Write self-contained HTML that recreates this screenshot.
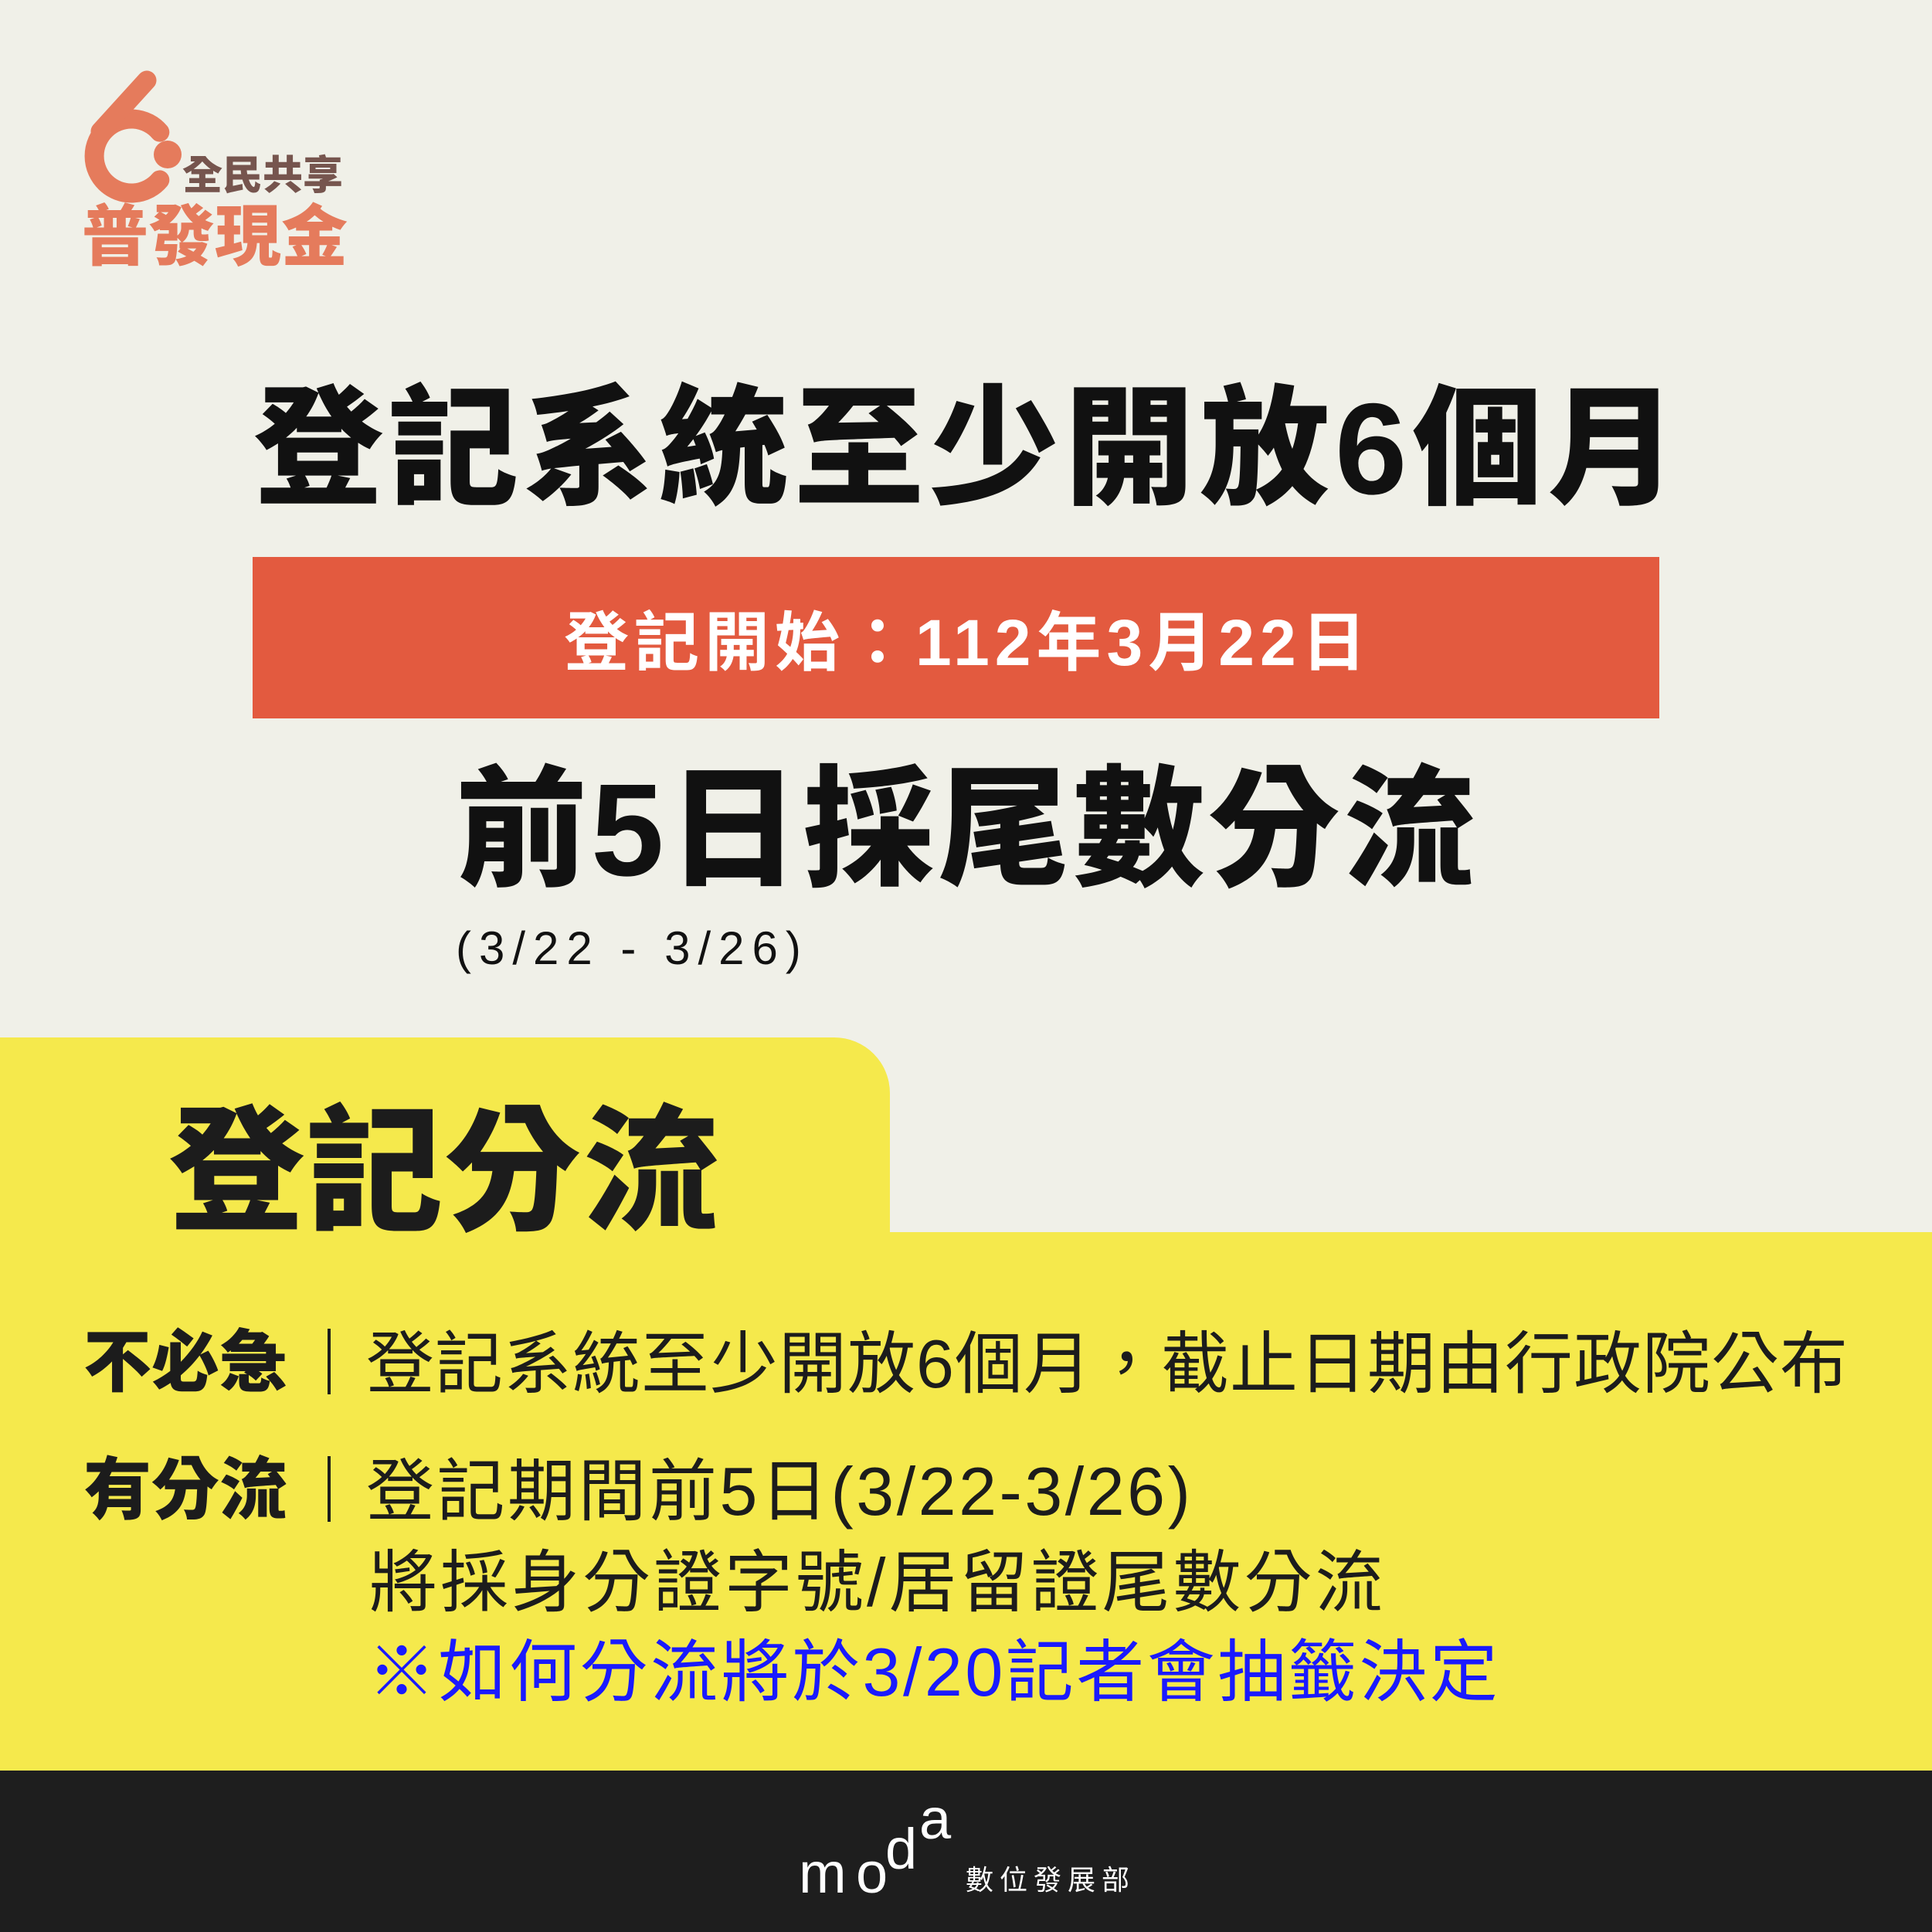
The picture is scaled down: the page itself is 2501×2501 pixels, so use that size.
<!DOCTYPE html>
<html><head><meta charset="utf-8"><style>
*{margin:0;padding:0;box-sizing:border-box}
body{width:2501px;height:2501px;background:#f0f0e8;position:relative;overflow:hidden;font-family:"Liberation Sans","Noto Sans CJK TC",sans-serif}
.t{position:absolute;white-space:nowrap;line-height:1}
</style></head><body>
<svg style="position:absolute;left:0;top:0" width="500" height="400">
<path d="M206.8 171.1 A48 48 0 1 0 206.8 232.9" fill="none" stroke="#e57b5c" stroke-width="25" stroke-linecap="round"/>
<path d="M130 170 L190 104" stroke="#e57b5c" stroke-width="25" stroke-linecap="round"/>
<circle cx="217" cy="200" r="18" fill="#e57b5c"/>
</svg>
<div class="t" style="left:236px;top:202px;font-size:52px;font-weight:900;color:#76554e">全民共享</div>
<div class="t" style="left:106px;top:264px;font-size:86px;font-weight:900;color:#e57b5c">普發現金</div>
<div class="t" style="left:328px;top:497px;font-size:168px;font-weight:900;color:#111;letter-spacing:7px">登記系統至少開放6個月</div>
<div style="position:absolute;left:327px;top:721px;width:1821px;height:209px;background:#e35a3f"></div>
<div class="t" style="left:730px;top:790px;font-size:84px;font-weight:700;color:#fff;letter-spacing:7px">登記開始：112年3月22日</div>
<div class="t" style="left:590px;top:990px;font-size:170px;font-weight:900;color:#111;letter-spacing:5px">前5日採尾數分流</div>
<div class="t" style="left:590px;top:1198px;font-size:60px;font-weight:500;color:#111;letter-spacing:10px">(3/22 - 3/26)</div>
<div style="position:absolute;left:0;top:1343px;width:1152px;height:300px;background:#f5e94c;border-top-right-radius:72px"></div>
<div style="position:absolute;left:0;top:1595px;width:2501px;height:697px;background:#f5e94c"></div>
<div class="t" style="left:218px;top:1430px;font-size:176px;font-weight:900;color:#1c1c1c;letter-spacing:3px">登記分流</div>
<div class="t" style="left:108px;top:1720px;font-size:88px;font-weight:900;color:#1c1c1c">不必急</div>
<div style="position:absolute;left:424px;top:1720px;width:4px;height:85px;background:#1c1c1c"></div>
<div class="t" style="left:474px;top:1722px;font-size:88px;font-weight:400;color:#1c1c1c;letter-spacing:1px">登記系統至少開放6個月，截止日期由行政院公布</div>
<div class="t" style="left:108px;top:1885px;font-size:88px;font-weight:900;color:#1c1c1c">有分流</div>
<div style="position:absolute;left:424px;top:1885px;width:4px;height:85px;background:#1c1c1c"></div>
<div class="t" style="left:474px;top:1887px;font-size:88px;font-weight:400;color:#1c1c1c;letter-spacing:3.5px">登記期間前5日(3/22-3/26)</div>
<div class="t" style="left:478px;top:2005px;font-size:88px;font-weight:400;color:#1c1c1c;letter-spacing:4px">將採身分證字號/居留證尾數分流</div>
<div class="t" style="left:476px;top:2121px;font-size:88px;font-weight:400;color:#1a1aff;letter-spacing:3.5px">※如何分流將於3/20記者會抽籤決定</div>
<div style="position:absolute;left:0;top:2292px;width:2501px;height:209px;background:#1e1e1e"></div>
<div class="t" style="left:1034px;top:2388px;font-size:74px;font-weight:300;color:#fff">m</div>
<div class="t" style="left:1108px;top:2388px;font-size:74px;font-weight:300;color:#fff">o</div>
<div class="t" style="left:1146px;top:2357px;font-size:74px;font-weight:300;color:#fff">d</div>
<div class="t" style="left:1190px;top:2318px;font-size:74px;font-weight:300;color:#fff">a</div>
<div class="t" style="left:1250px;top:2416px;font-size:36px;font-weight:400;color:#fff;letter-spacing:8px">數位發展部</div>
</body></html>
